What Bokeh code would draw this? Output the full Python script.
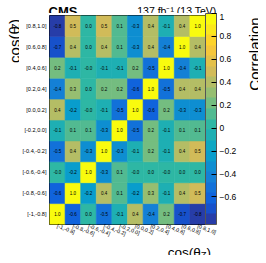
import numpy as np
from bokeh.plotting import figure
from bokeh.layouts import column, row
from bokeh.models import (ColumnDataSource, LinearColorMapper, ColorBar, FixedTicker,
                          FactorRange, Range1d)
from bokeh.transform import transform
from bokeh.core.properties import value
from bokeh.embed import file_html
from bokeh.resources import INLINE

# bin labels (bottom-to-top for y, left-to-right for x)
bins = ["[-1,-0.8]", "[-0.8,-0.6]", "[-0.6,-0.4]", "[-0.4,-0.2]", "[-0.2,0.0]",
        "[0.0,0.2]", "[0.2,0.4]", "[0.4,0.6]", "[0.6,0.8]", "[0.8,1.0]"]

# correlation values, one list per y bin, across the x bins
row_m10_m08 = [1.0, -0.6, 0.0, -0.5, -0.1, 0.4, -0.4, 0.2, -0.7, -0.8]
row_m08_m06 = [-0.6, 1.0, -0.2, 0.4, 0.1, -0.2, 0.3, -0.1, 0.4, 0.5]
row_m06_m04 = [-0.0, -0.2, 1.0, -0.3, 0.1, -0.0, 0.0, -0.0, 0.0, 0.0]
row_m04_m02 = [-0.5, 0.4, -0.3, 1.0, -0.3, -0.1, 0.2, -0.1, 0.4, 0.5]
row_m02_p00 = [-0.1, 0.1, 0.1, -0.3, 1.0, -0.5, 0.2, -0.1, 0.1, 0.1]
row_p00_p02 = [0.4, -0.2, -0.0, -0.1, -0.5, 1.0, -0.6, 0.2, -0.3, -0.3]
row_p02_p04 = [-0.4, 0.3, 0.0, 0.2, 0.2, -0.6, 1.0, -0.5, 0.4, 0.4]
row_p04_p06 = [0.2, -0.1, -0.0, -0.1, -0.1, 0.2, -0.5, 1.0, -0.4, -0.1]
row_p06_p08 = [-0.7, 0.4, 0.0, 0.4, 0.1, -0.3, 0.4, -0.4, 1.0, 0.4]
row_p08_p10 = [-0.8, 0.5, 0.0, 0.5, 0.1, -0.3, 0.4, -0.1, 0.4, 1.0]

rows = [row_m10_m08, row_m08_m06, row_m06_m04, row_m04_m02, row_m02_p00,
        row_p00_p02, row_p02_p04, row_p04_p06, row_p06_p08, row_p08_p10]

z_min, z_max = -0.84, 1.0
cbar_ticks = [-0.6, -0.4, -0.2, 0, 0.2, 0.4, 0.6, 0.8, 1]
cbar_tick_labels = ["\u22120.6", "\u22120.4", "\u22120.2", "0", "0.2", "0.4", "0.6", "0.8", "1"]

header_left = "CMS"
header_right = "137 fb\u207b\u00b9 (13 TeV)"
axis_title_main = "cos(\u03b8"
axis_title_sub = "Z"
axis_title_end = ")"
cbar_title = "Correlation"

# ROOT kBird palette, sampled into 20 contour levels
stops = [0.0, 0.125, 0.25, 0.375, 0.5, 0.625, 0.75, 0.875, 1.0]
red = [0.2082, 0.0592, 0.0780, 0.0232, 0.1802, 0.5301, 0.8186, 0.9956, 0.9764]
green = [0.1664, 0.3599, 0.5041, 0.6419, 0.7178, 0.7492, 0.7328, 0.7862, 0.9832]
blue = [0.5293, 0.8684, 0.8385, 0.7914, 0.6425, 0.4662, 0.3499, 0.1968, 0.0539]
ncont = 20
palette = []
for i in range(ncont):
    idx = min(int((i + 0.99) * 255 / ncont), 254)
    f = idx / 254.0
    r = np.interp(f, stops, red)
    g = np.interp(f, stops, green)
    b = np.interp(f, stops, blue)
    palette.append("#%02x%02x%02x" % (int(round(r * 255)), int(round(g * 255)), int(round(b * 255))))

xs, ys, vals, labs = [], [], [], []
for j, rr in enumerate(rows):
    for i, v in enumerate(rr):
        xs.append(bins[i])
        ys.append(bins[j])
        vals.append(v)
        labs.append(f"{v:.1f}")
src = ColumnDataSource(dict(x=xs, y=ys, v=vals, lab=labs))

mapper = LinearColorMapper(palette=palette, low=z_min, high=z_max)
FONT = value("Liberation Sans")
FONTN = "Liberation Sans"

# ---------------- layout geometry (px) ----------------
W_TOT, H_TOP, H_MID, H_BOT = 258, 13, 229, 13
W_LEFT, W_MAIN = 19, 223
W_RIGHT = W_TOT - W_LEFT - W_MAIN
B_L, B_R, B_T, B_B = 29, 37, 2, 16
FH = H_MID - B_T - B_B


def strip(w, h):
    f = figure(width=w, height=h, x_range=Range1d(0, w), y_range=Range1d(0, h),
               x_axis_type=None, y_axis_type=None, output_backend="svg",
               toolbar_location=None, min_border=0)
    f.min_border_left = f.min_border_right = f.min_border_top = f.min_border_bottom = 0
    f.outline_line_color = None
    f.grid.visible = False
    f.background_fill_color = "white"
    f.border_fill_color = "white"
    return f


def txt(f, x, y, s, size, align="left", angle=0.0, style="normal"):
    f.text(x=[x], y=[y], text=[s], text_font=FONT, text_font_size=size,
           text_align=align, text_baseline="alphabetic", angle=angle,
           text_font_style=style, text_color="black")


# ---------------- top strip: header ----------------
top = strip(W_TOT, H_TOP)
txt(top, W_LEFT + B_L, 2.3, header_left, "13px", style="bold")
txt(top, 216, 2.3, header_right, "10.5px", align="right")

# ---------------- main heatmap ----------------
p = figure(width=W_MAIN, height=H_MID, x_range=FactorRange(*bins), y_range=FactorRange(*bins),
           output_backend="svg", toolbar_location=None,
           min_border_left=B_L, min_border_top=B_T, min_border_bottom=B_B, min_border_right=B_R)
p.outline_line_color = "black"
p.outline_line_width = 1
p.grid.visible = False
p.background_fill_color = "white"

p.rect(x="x", y="y", width=1, height=1, source=src,
       fill_color=transform("v", mapper), line_color=transform("v", mapper), line_width=0.6)
p.text(x="x", y="y", text="lab", source=src, text_align="center", text_baseline="middle",
       text_font_size="4.5px", text_font=FONT, text_color="black")

for ax in (p.xaxis[0], p.yaxis[0]):
    ax.axis_line_color = None
    ax.major_tick_line_color = None
    ax.minor_tick_line_color = None
    ax.major_tick_out = 0
    ax.major_tick_in = 0
    ax.major_label_text_color = "black"
    ax.major_label_text_font = FONTN
    ax.major_label_standoff = 3
p.xaxis.major_label_text_font_size = "5.4px"
p.yaxis.major_label_text_font_size = "5.6px"
p.xaxis.major_label_orientation = -0.37
p.xaxis.major_label_standoff = 1

cbar = ColorBar(color_mapper=mapper, width=11, height=FH, location=(0, 0),
                margin=3, padding=0,
                ticker=FixedTicker(ticks=cbar_ticks),
                major_label_overrides={t: l for t, l in zip(cbar_ticks, cbar_tick_labels)},
                major_label_text_font=FONTN, major_label_text_font_size="8.5px",
                major_label_text_color="black", label_standoff=3,
                major_tick_in=5, major_tick_out=0, major_tick_line_color="black",
                minor_tick_line_color=None,
                bar_line_color="#555555", bar_line_width=1,
                background_fill_color=None, border_line_color=None)
p.add_layout(cbar, "right")

# ---------------- left strip: y title ----------------
half_pi = np.pi / 2
left = strip(W_LEFT, H_MID)
y0 = H_MID - 52.0
w_main = 2.445 * 15
w_sub = 0.611 * 10
txt(left, 14.0, y0, axis_title_main, "15px", angle=half_pi)
txt(left, 16.3, y0 + w_main, axis_title_sub, "10px", angle=half_pi)
txt(left, 14.0, y0 + w_main + w_sub, axis_title_end, "15px", angle=half_pi)

# ---------------- right strip: colour bar title ----------------
right = strip(W_RIGHT, H_MID)
txt(right, 11.5, H_MID - 2.0, cbar_title, "15px", align="right", angle=half_pi)

# ---------------- bottom strip: x title ----------------
bot = strip(W_TOT, H_BOT)
x_end = 210.5
fs = 13.5
w_end = 0.333 * fs
w_sub2 = 0.611 * 9.5
w_main2 = 2.445 * fs
txt(bot, x_end - w_end, 2.9, axis_title_end, "13.5px")
txt(bot, x_end - w_end - w_sub2, 0.9, axis_title_sub, "9.5px")
txt(bot, x_end - w_end - w_sub2 - w_main2, 2.9, axis_title_main, "13.5px")

layout = column(top, row(left, p, right), bot)
open("out.html", "w").write(file_html(layout, INLINE))
